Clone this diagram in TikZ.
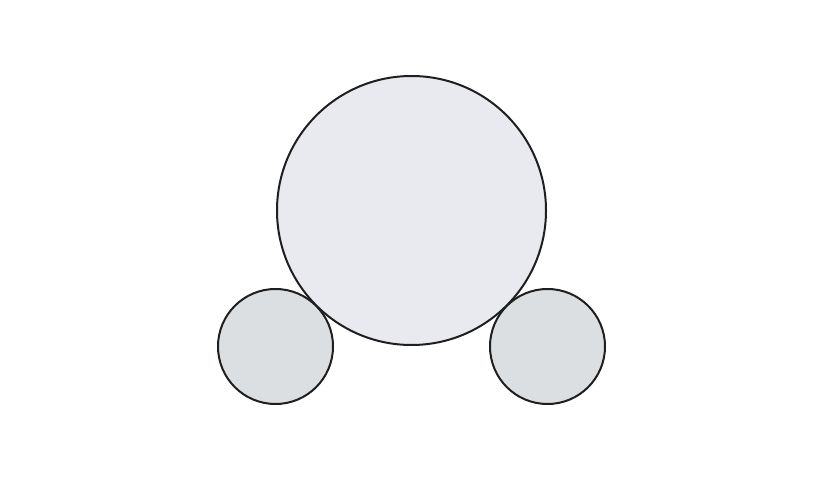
\documentclass[tikz,border=0pt]{standalone}
\begin{document}
\begin{tikzpicture}[x=1pt,y=-1pt,
  bigc/.style={circle,draw=black!88,line width=2pt,fill=bigfill,inner sep=0pt},
  smallc/.style={circle,draw=black!88,line width=2pt,fill=smallfill,inner sep=0pt}]
\definecolor{bigfill}{HTML}{E9EAEF}
\definecolor{smallfill}{HTML}{DCDFE2}
\useasboundingbox[fill=white] (0,0) rectangle (823,500);
\node[bigc,minimum size=269pt] (big) at (411.5,210.5) {};
\node[smallc,minimum size=115pt] (left) at (275.5,346.5) {};
\node[smallc,minimum size=115pt] (right) at (547.5,346.5) {};
\end{tikzpicture}
\end{document}
